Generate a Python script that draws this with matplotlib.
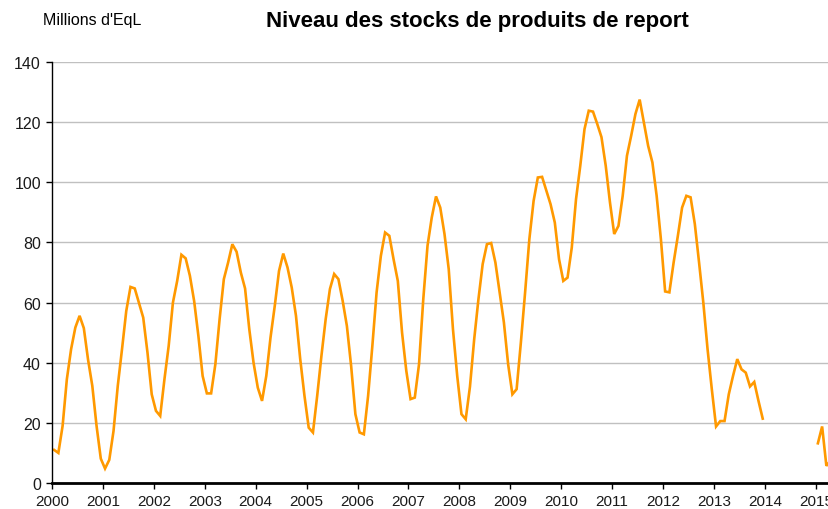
import numpy as np
import matplotlib.pyplot as plt

plt.rcParams['font.family'] = ['Liberation Sans', 'DejaVu Sans']

# monthly stock levels (millions d'EqL), Jan 2000 -> Apr 2015, 2014 missing
years = list(range(2000, 2016))
stocks = {
    2000: [11, 10, 19, 34.5, 44.5, 51.7, 55.6, 51.5, 41, 32.3, 19, 8.1],
    2001: [4.8, 7.7, 17.3, 32.3, 44.5, 57.2, 65.2, 64.7, 59.8, 55, 43.4, 29.5],
    2002: [24, 22.3, 34.5, 45.6, 60, 67.2, 75.9, 74.7, 68.9, 60.5, 48.9, 35.6],
    2003: [29.8, 29.8, 39.5, 54.5, 67.8, 73.3, 79.4, 76.9, 70, 64.7, 51.1, 40],
    2004: [31.7, 27.3, 35.6, 48.4, 58.9, 70.5, 76.3, 71.7, 65, 55.6, 41.2, 29],
    2005: [18.4, 16.8, 29, 42.3, 54.5, 64.5, 69.5, 67.8, 60.6, 52.2, 38.9, 22.9],
    2006: [16.8, 16.2, 29, 45.6, 63.4, 75.5, 83.3, 82.2, 74.4, 67.2, 50, 37.3],
    2007: [27.9, 28.4, 39.5, 61.1, 78.9, 88.3, 95.3, 91.6, 82.8, 71.1, 51.1, 35.6],
    2008: [22.9, 21.2, 32, 47.8, 61.1, 72.8, 79.4, 79.8, 73.3, 63.4, 53.4, 39.5],
    2009: [29.5, 31.2, 46.7, 63.4, 81.1, 93.8, 101.6, 101.8, 97.2, 92.7, 86.6, 74.4],
    2010: [67.2, 68.3, 78.3, 94.4, 105.5, 117.7, 123.8, 123.5, 119.4, 115, 105.5, 93.3],
    2011: [82.8, 85.5, 95.5, 108.8, 115.5, 122.7, 127.5, 119.9, 112.1, 106.6, 95.5, 81.1],
    2012: [63.7, 63.4, 73.3, 82.2, 91.6, 95.5, 95, 86.1, 73.3, 60, 44.5, 31.2],
    2013: [18.8, 20.6, 20.6, 29.5, 35.6, 41.2, 37.8, 36.7, 32.1, 33.6, 27.3, 21.4],
    2014: [np.nan] * 12,
    2015: [13.2, 18.8, 5.7, 7.5],
}

values = []
dates = []
for y in years:
    for m, v in enumerate(stocks[y]):
        dates.append(y + (m + 0.5) / 12.0)
        values.append(v)
dates = np.array(dates)
values = np.array(values)

fig = plt.figure(figsize=(8.29, 5.10), dpi=100)
ax = fig.add_axes([52/829, 26/510, (829-52)/829, 421/510])

ax.plot(dates, values, color='#FF9900', linewidth=1.9, solid_joinstyle='miter')

ax.set_xlim(2000, 2015.26)
ax.set_ylim(0, 140)
ax.set_xticks(years)
ax.set_yticks(range(0, 141, 20))
ax.grid(axis='y', color='#c0c0c0', linewidth=1.0)
ax.set_axisbelow(True)

for s in ['top', 'right']:
    ax.spines[s].set_visible(False)
ax.spines['left'].set_linewidth(1.0)
ax.spines['bottom'].set_linewidth(2.0)
ax.tick_params(axis='both', direction='out', length=4, width=1, labelsize=11.5,
               colors='black', labelcolor='#1a1a1a', pad=4)
ax.tick_params(axis='x', pad=4, labelsize=11)

fig.text(477/829, 1 - 21/510, "Niveau des stocks de produits de report",
         ha='center', va='center', fontsize=16, fontweight='bold')
fig.text(43/829, 1 - 21/510, "Millions d'EqL", ha='left', va='center', fontsize=11.5)

fig.savefig('out.png', dpi=100)
